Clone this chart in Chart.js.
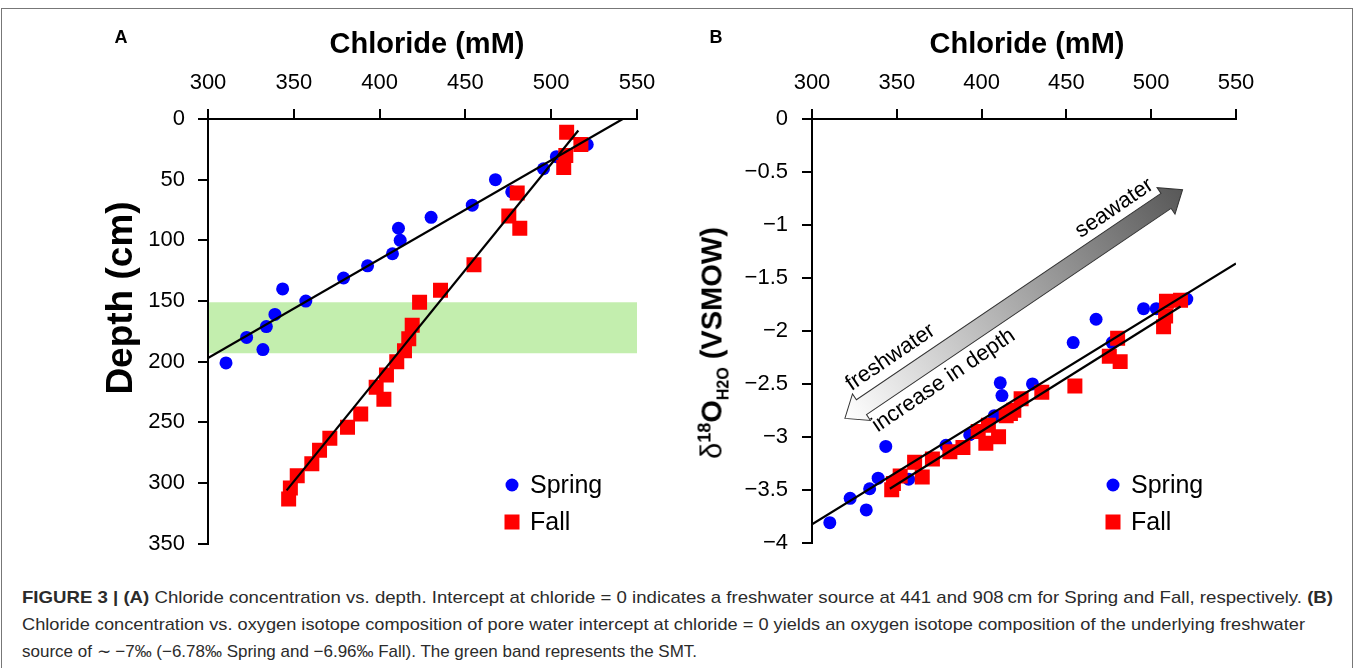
<!DOCTYPE html>
<html>
<head>
<meta charset="utf-8">
<script src="https://cdn.jsdelivr.net/npm/chart.js@4.4.0/dist/chart.umd.min.js"></script>
<style>
  html, body { margin: 0; padding: 0; background: #fff; }
  body {
    width: 1355px; height: 668px; overflow: hidden; position: relative;
    font-family: "Liberation Sans", Arial, sans-serif;
  }
  .frame { position: absolute; left: 1px; top: 8px; width: 1350px; height: 700px; border: 1px solid #777; }
  canvas { position: absolute; top: 0; }
  #chartA { left: 0; }
  #chartB { left: 690px; }
  .lbl { position: absolute; transform: translate(-50%, -50%); white-space: nowrap; color: #000; }
  .title { font-weight: bold; font-size: 29px; }
  .vert { transform: translate(-50%, -50%) rotate(-90deg); }
  .vert sup { font-size: 18px; vertical-align: 11px; line-height: 0; }
  .vert sub { font-size: 16px; vertical-align: -7px; line-height: 0; }
  .panel { font-weight: bold; font-size: 18px; }
  .caption {
    position: absolute; left: 22px; font-size: 17px; line-height: 20px;
    color: #2b2b2b; white-space: nowrap; transform-origin: left center;
  }
</style>
</head>
<body>
<div class="frame"></div>
<canvas id="chartA" width="690" height="570"></canvas>
<canvas id="chartB" width="665" height="570"></canvas>

<div class="lbl panel" style="left:121px;top:37px">A</div>
<div class="lbl panel" style="left:716px;top:37px">B</div>
<div class="lbl title" style="left:427px;top:43px">Chloride (mM)</div>
<div class="lbl title" style="left:1027px;top:43px">Chloride (mM)</div>
<div class="lbl title vert" style="left:120px;top:298px;font-size:37px">Depth (cm)</div>
<div class="lbl title vert" style="left:712px;top:343px"><span style="font-weight:normal">δ</span><sup>18</sup>O<sub>H2O</sub> (VSMOW)</div>

<div class="caption" id="cap1" style="top:588px"><b>FIGURE 3 | (A)</b> Chloride concentration vs. depth. Intercept at chloride = 0 indicates a freshwater source at 441 and 908&thinsp;cm for Spring and Fall, respectively. <b>(B)</b></div>
<div class="caption" id="cap2" style="top:615px">Chloride concentration vs. oxygen isotope composition of pore water intercept at chloride = 0 yields an oxygen isotope composition of the underlying freshwater</div>
<div class="caption" id="cap3" style="top:642px">source of ∼ −7‰ (−6.78‰ Spring and −6.96‰ Fall). The green band represents the SMT.</div>

<script>
// tick values
const chlorideTicks = [300, 350, 400, 450, 500, 550];
const depthTicks = [0, 50, 100, 150, 200, 250, 300, 350];
const d18OTicks = [0, -0.5, -1, -1.5, -2, -2.5, -3, -3.5, -4];

// Spring samples (same chloride in both panels)
const springChloride = [310.5, 322.5, 332, 334, 339, 343.5, 357, 379, 393, 407.5, 411, 412, 430, 454, 467.5, 477, 495.5, 503, 521];
const springDepth = [201, 180, 190, 171, 161, 140, 150, 131, 121, 111, 90, 100, 81, 71, 50, 60, 41, 31, 21];
const springD18O = [-3.81, -3.58, -3.69, -3.49, -3.39, -3.09, -3.40, -3.08, -2.98, -2.80, -2.49, -2.61, -2.50, -2.11, -1.89, -2.11, -1.79, -1.79, -1.70];

// Fall samples
const fallChloride = [347, 348, 352, 360.5, 365, 371, 381.3, 389, 398, 402.5, 404, 410, 414.5, 417, 419, 423.3, 435.5, 455, 475.3, 480.2, 481.7, 507.3, 508.5, 509, 517.3];
const fallDepth = [313, 304, 294, 284, 273, 263, 254, 243, 221, 231, 211, 200, 191, 181, 170, 151, 141, 120, 80, 61, 90, 40, 30, 11, 21];
const fallD18O = [-3.50, -3.44, -3.37, -3.24, -3.38, -3.21, -3.14, -3.10, -2.95, -3.06, -2.89, -3.00, -2.80, -2.78, -2.75, -2.64, -2.58, -2.52, -2.24, -2.07, -2.29, -1.96, -1.86, -1.72, -1.71];

// regression line end points
const springFitChloride = [300, 541.7];
const springFitDepth = [197, 0];
const fallFitChloride = [345.8, 515.8];
const fallFitDepth = [306, 9.5];
const springFitChlorideB = [300, 550];
const springFitD18O = [-3.826, -1.364];
const fallFitChlorideB = [345.9, 517.3];
const fallFitD18O = [-3.49, -1.77];

// SMT band (depth range) and the arrow in panel B (chloride, d18O)
const smtDepth = [151, 193];
const arrowChloride = [319.4, 518.5];
const arrowD18O = [-2.826, -0.667];

const FONT = '"Liberation Sans", Arial, sans-serif';

function pts(xs, ys) {
  return xs.map((x, i) => ({ x: x, y: ys[i] }));
}

function minusSign(v) {
  return String(v).replace('-', '\u2212');
}

function axisBase(tickList, fit, pad) {
  return {
    afterBuildTicks: (axis) => { axis.ticks = tickList.map((v) => ({ value: v })); },
    afterFit: fit,
    grid: { drawOnChartArea: false, drawTicks: true, tickLength: 10, color: '#000', lineWidth: 2 },
    border: { display: true, color: '#000', width: 2 },
    ticks: { color: '#000', font: { family: FONT, size: 22 }, padding: pad, callback: minusSign, maxRotation: 0, autoSkip: false },
  };
}

function springSet(data) {
  return { label: 'Spring', data: data, pointStyle: 'circle', pointRadius: 6.5, pointBackgroundColor: '#0000ff', pointBorderWidth: 0, order: 2 };
}
function fallSet(data) {
  return { label: 'Fall', data: data, pointStyle: 'rect', pointRadius: 10.6, pointBackgroundColor: '#ff0000', pointBorderWidth: 0, order: 1 };
}
function fitSet(data) {
  return { data: data, showLine: true, pointRadius: 0, borderColor: '#000', borderWidth: 2.2, fill: false, order: 0 };
}

// legend drawn inside the plot, bottom right
function legendPlugin(dx, dy) {
  return {
    id: 'innerLegend',
    afterDatasetsDraw(chart) {
      const ctx = chart.ctx;
      const a = chart.chartArea;
      const x = a.left + dx, y = a.top + dy;
      ctx.save();
      ctx.fillStyle = '#0000ff';
      ctx.beginPath();
      ctx.arc(x, y, 6.5, 0, Math.PI * 2);
      ctx.fill();
      ctx.fillStyle = '#ff0000';
      ctx.fillRect(x - 7.5, y + 37 - 7.5, 15, 15);
      ctx.fillStyle = '#000';
      ctx.font = '25px ' + FONT;
      ctx.textBaseline = 'middle';
      ctx.fillText('Spring', x + 18, y + 1);
      ctx.fillText('Fall', x + 18, y + 38);
      ctx.restore();
    },
  };
}

const bandPlugin = {
  id: 'smtBand',
  beforeDraw(chart) {
    const ctx = chart.ctx;
    const a = chart.chartArea;
    const y0 = chart.scales.y.getPixelForValue(smtDepth[0]);
    const y1 = chart.scales.y.getPixelForValue(smtDepth[1]);
    ctx.save();
    ctx.fillStyle = '#c3eeae';
    ctx.fillRect(a.left, y0, a.right - a.left, y1 - y0);
    ctx.restore();
  },
};

const arrowPlugin = {
  id: 'mixArrow',
  afterDatasetsDraw(chart) {
    const ctx = chart.ctx;
    const xs = chart.scales.x, ys = chart.scales.y;
    const x0 = xs.getPixelForValue(arrowChloride[0]), y0 = ys.getPixelForValue(arrowD18O[0]);
    const x1 = xs.getPixelForValue(arrowChloride[1]), y1 = ys.getPixelForValue(arrowD18O[1]);
    const L = Math.hypot(x1 - x0, y1 - y0);
    const ang = Math.atan2(y1 - y0, x1 - x0);
    const hw = 9, hh = 16, hl = 20;
    ctx.save();
    ctx.translate(x0, y0);
    ctx.rotate(ang);
    const g = ctx.createLinearGradient(0, 0, L, 0);
    g.addColorStop(0, '#ffffff');
    g.addColorStop(1, '#585858');
    ctx.beginPath();
    ctx.moveTo(0, 0);
    ctx.lineTo(hl, -hh);
    ctx.lineTo(hl, -hw);
    ctx.lineTo(L - hl, -hw);
    ctx.lineTo(L - hl, -hh);
    ctx.lineTo(L, 0);
    ctx.lineTo(L - hl, hh);
    ctx.lineTo(L - hl, hw);
    ctx.lineTo(hl, hw);
    ctx.lineTo(hl, hh);
    ctx.closePath();
    ctx.fillStyle = g;
    ctx.fill();
    ctx.strokeStyle = '#333';
    ctx.lineWidth = 1;
    ctx.stroke();
    ctx.fillStyle = '#000';
    ctx.font = '22px ' + FONT;
    ctx.textAlign = 'center';
    ctx.textBaseline = 'middle';
    ctx.fillText('freshwater', 72, -25);
    ctx.fillText('increase in depth', 103, 24);
    ctx.fillText('seawater', 341, -23);
    ctx.restore();
  },
};

const common = {
  responsive: false,
  animation: false,
  devicePixelRatio: 1,
  events: [],
  plugins: { legend: { display: false }, tooltip: { enabled: false } },
};

new Chart(document.getElementById('chartA'), {
  type: 'scatter',
  data: {
    datasets: [
      fitSet(pts(springFitChloride, springFitDepth)),
      fitSet(pts(fallFitChloride, fallFitDepth)),
      fallSet(pts(fallChloride, fallDepth)),
      springSet(pts(springChloride, springDepth)),
    ],
  },
  options: Object.assign({}, common, {
    layout: { padding: { left: 0, top: 0, right: 53, bottom: 24 } },
    scales: {
      x: Object.assign(axisBase(chlorideTicks, (s) => { s.height = 119; }, 13), { type: 'linear', position: 'top', min: 300, max: 550 }),
      y: Object.assign(axisBase(depthTicks, (s) => { s.width = 208; }, 13), { type: 'linear', position: 'left', reverse: true, min: 0, max: 350 }),
    },
  }),
  plugins: [bandPlugin, legendPlugin(304, 366)],
});

new Chart(document.getElementById('chartB'), {
  type: 'scatter',
  data: {
    datasets: [
      fitSet(pts(springFitChlorideB, springFitD18O)),
      fitSet(pts(fallFitChlorideB, fallFitD18O)),
      fallSet(pts(fallChloride, fallD18O)),
      springSet(pts(springChloride, springD18O)),
    ],
  },
  options: Object.assign({}, common, {
    layout: { padding: { left: 0, top: 0, right: 119, bottom: 25 } },
    scales: {
      x: Object.assign(axisBase(chlorideTicks, (s) => { s.height = 119; }, 13), { type: 'linear', position: 'top', min: 300, max: 550 }),
      y: Object.assign(axisBase(d18OTicks, (s) => { s.width = 122; }, 14), { type: 'linear', position: 'left', min: -4, max: 0 }),
    },
  }),
  plugins: [arrowPlugin, legendPlugin(301, 366)],
});

// squeeze caption lines to the widths of the reference
[['cap1', 1311], ['cap2', 1283], ['cap3', 675]].forEach(([id, w]) => {
  const el = document.getElementById(id);
  const s = w / el.getBoundingClientRect().width;
  el.style.transform = 'scaleX(' + s + ')';
});
</script>
</body>
</html>
